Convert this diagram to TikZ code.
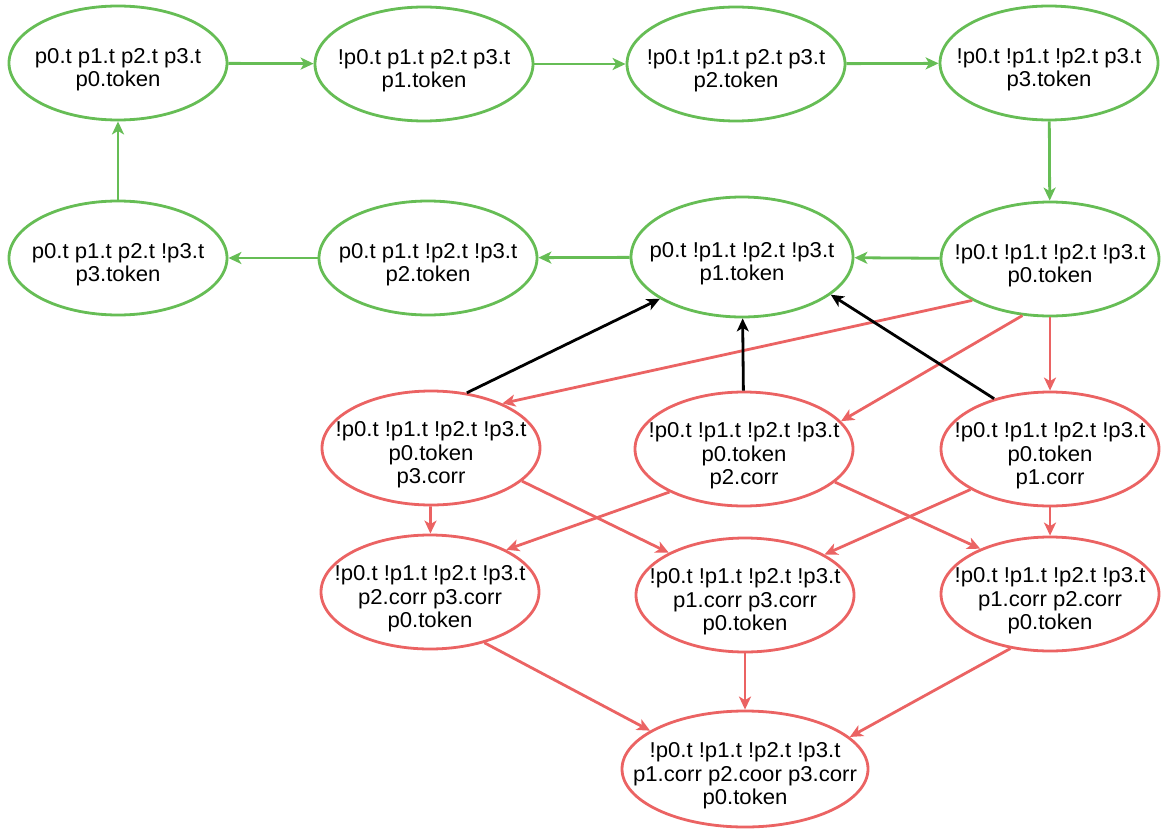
\documentclass[tikz,border=0pt]{standalone}
\usepackage{fontspec}
\setmainfont{Liberation Sans}[FakeStretch=1.03]
\usetikzlibrary{arrows.meta,shapes.geometric}
\definecolor{okgreen}{HTML}{66BD55}
\definecolor{faultred}{HTML}{EB6363}
\newcommand\statetext[1]{\raisebox{-12.5pt}[0pt][0pt]{\makebox[0pt]{\begin{tabular}{@{}c@{}}#1\end{tabular}}}}

\begin{document}
\begin{tikzpicture}[x=1pt,y=-1pt,
  state/.style={ellipse, draw, line width=2.8pt, fill=white,
    minimum width=218pt, minimum height=114pt, inner sep=0pt,
    font=\fontsize{21.5}{23.5}\selectfont},
  goodstate/.style={state, draw=okgreen},
  badstate/.style={state, draw=faultred},
  edge/.style={line width=2.8pt, -{Stealth[length=13pt,width=12pt,inset=3.5pt]}},
  greenedge/.style={edge, draw=okgreen, fill=okgreen},
  rededge/.style={edge, draw=faultred, fill=faultred},
  blackedge/.style={edge, draw=black, fill=black}]

\useasboundingbox (0,0) rectangle (1166,832);

% token ring, no faults
\node[goodstate] (a1) at (118,63)  {\statetext{p0.t p1.t p2.t p3.t\\p0.token}};
\node[goodstate] (a2) at (424,64)  {\statetext{!p0.t p1.t p2.t p3.t\\p1.token}};
\node[goodstate] (a3) at (736,64)  {\statetext{!p0.t !p1.t p2.t p3.t\\p2.token}};
\node[goodstate] (a4) at (1049,63) {\statetext{!p0.t !p1.t !p2.t p3.t\\p3.token}};
\node[goodstate] (b1) at (118,258) {\statetext{p0.t p1.t p2.t !p3.t\\p3.token}};
\node[goodstate] (b2) at (428,258) {\statetext{p0.t p1.t !p2.t !p3.t\\p2.token}};
\node[goodstate, minimum width=222pt, minimum height=120pt] (b3) at (742,257)
  {\statetext{p0.t !p1.t !p2.t !p3.t\\p1.token}};
\node[goodstate] (b4) at (1050,259) {\statetext{!p0.t !p1.t !p2.t !p3.t\\p0.token}};

% states with corrupted processes
\node[badstate] (c1) at (431,448)  {\statetext{!p0.t !p1.t !p2.t !p3.t\\p0.token\\p3.corr}};
\node[badstate] (c2) at (744,449)  {\statetext{!p0.t !p1.t !p2.t !p3.t\\p0.token\\p2.corr}};
\node[badstate] (c3) at (1050,449) {\statetext{!p0.t !p1.t !p2.t !p3.t\\p0.token\\p1.corr}};
\node[badstate] (d1) at (430,592)  {\statetext{!p0.t !p1.t !p2.t !p3.t\\p2.corr p3.corr\\p0.token}};
\node[badstate] (d2) at (745,595)  {\statetext{!p0.t !p1.t !p2.t !p3.t\\p1.corr p3.corr\\p0.token}};
\node[badstate] (d3) at (1050,594) {\statetext{!p0.t !p1.t !p2.t !p3.t\\p1.corr p2.corr\\p0.token}};
\node[badstate, minimum width=246pt, minimum height=116pt] (e) at (745,769)
  {\statetext{!p0.t !p1.t !p2.t !p3.t\\p1.corr p2.coor p3.corr\\p0.token}};

% normal token passing
\draw[greenedge] (a1) -- (a2);
\draw[greenedge] (a2) -- (a3);
\draw[greenedge] (a3) -- (a4);
\draw[greenedge] (a4) -- (b4);
\draw[greenedge] (b4) -- (b3);
\draw[greenedge] (b3) -- (b2);
\draw[greenedge] (b2) -- (b1);
\draw[greenedge] (b1) -- (a1);

% corruption steps
\draw[rededge] (b4.208) -- (c1.32);
\draw[rededge] (b4.244) -- (c2.16);
\draw[rededge] (b4) -- (c3);
\draw[rededge] (c1) -- (d1);
\draw[rededge] (c1.340) -- (d2.151);
\draw[rededge] (c2.210) -- (d1.29);
\draw[rededge] (c2.340) -- (d3.147);
\draw[rededge] (c3.207) -- (d2.27);
\draw[rededge] (c3) -- (d3);
\draw[rededge] (d1.317) -- (e.158);
\draw[rededge] (d2) -- (e);
\draw[rededge] (d3.234) -- (e.17);

% recovery steps
\draw[blackedge] (c1.57) -- (b3.207);
\draw[blackedge] (c2) -- (b3);
\draw[blackedge] (c3.138) -- (b3.337);
\end{tikzpicture}
\end{document}
